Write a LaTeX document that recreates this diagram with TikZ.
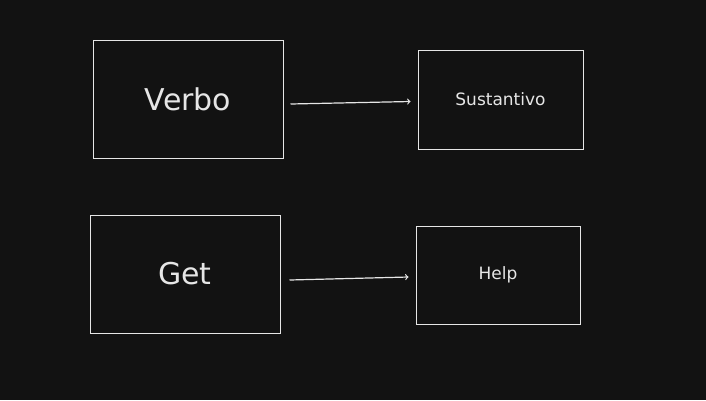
\documentclass[tikz,border=0pt]{standalone}
\usepackage{fontspec}
\setmainfont{DejaVu Sans}
\definecolor{bg}{HTML}{121212}
\definecolor{ink}{HTML}{E6E6E6}
\begin{document}
\begin{tikzpicture}[x=1pt,y=-1pt]
    \tikzstyle{box}=[draw=ink, line width=1pt, text=ink, inner sep=0pt]
    \tikzstyle{link}=[draw=ink, line width=1.2pt, ->]
    \fill[bg] (0,0) rectangle (706,400);
    \node[box, minimum width=190pt, minimum height=118pt, font=\fontsize{30}{32}\selectfont] (verbo) at (188,99) {Verbo};
    \node[box, minimum width=165pt, minimum height=99pt, font=\fontsize{17}{19}\selectfont] (sust) at (500.5,99.5) {Sustantivo};
    \node[box, minimum width=190pt, minimum height=118pt, font=\fontsize{30}{32}\selectfont] (get) at (185,274) {Get};
    \node[box, minimum width=164pt, minimum height=98pt, font=\fontsize{17}{19}\selectfont] (help) at (498,275) {Help};
    \draw[link] ([xshift=7pt,yshift=-5pt]verbo.east) -- ([xshift=-7pt,yshift=-2pt]sust.west);
    \draw[link] ([xshift=9pt,yshift=-6pt]get.east) -- ([xshift=-7pt,yshift=-2pt]help.west);
\end{tikzpicture}
\end{document}
